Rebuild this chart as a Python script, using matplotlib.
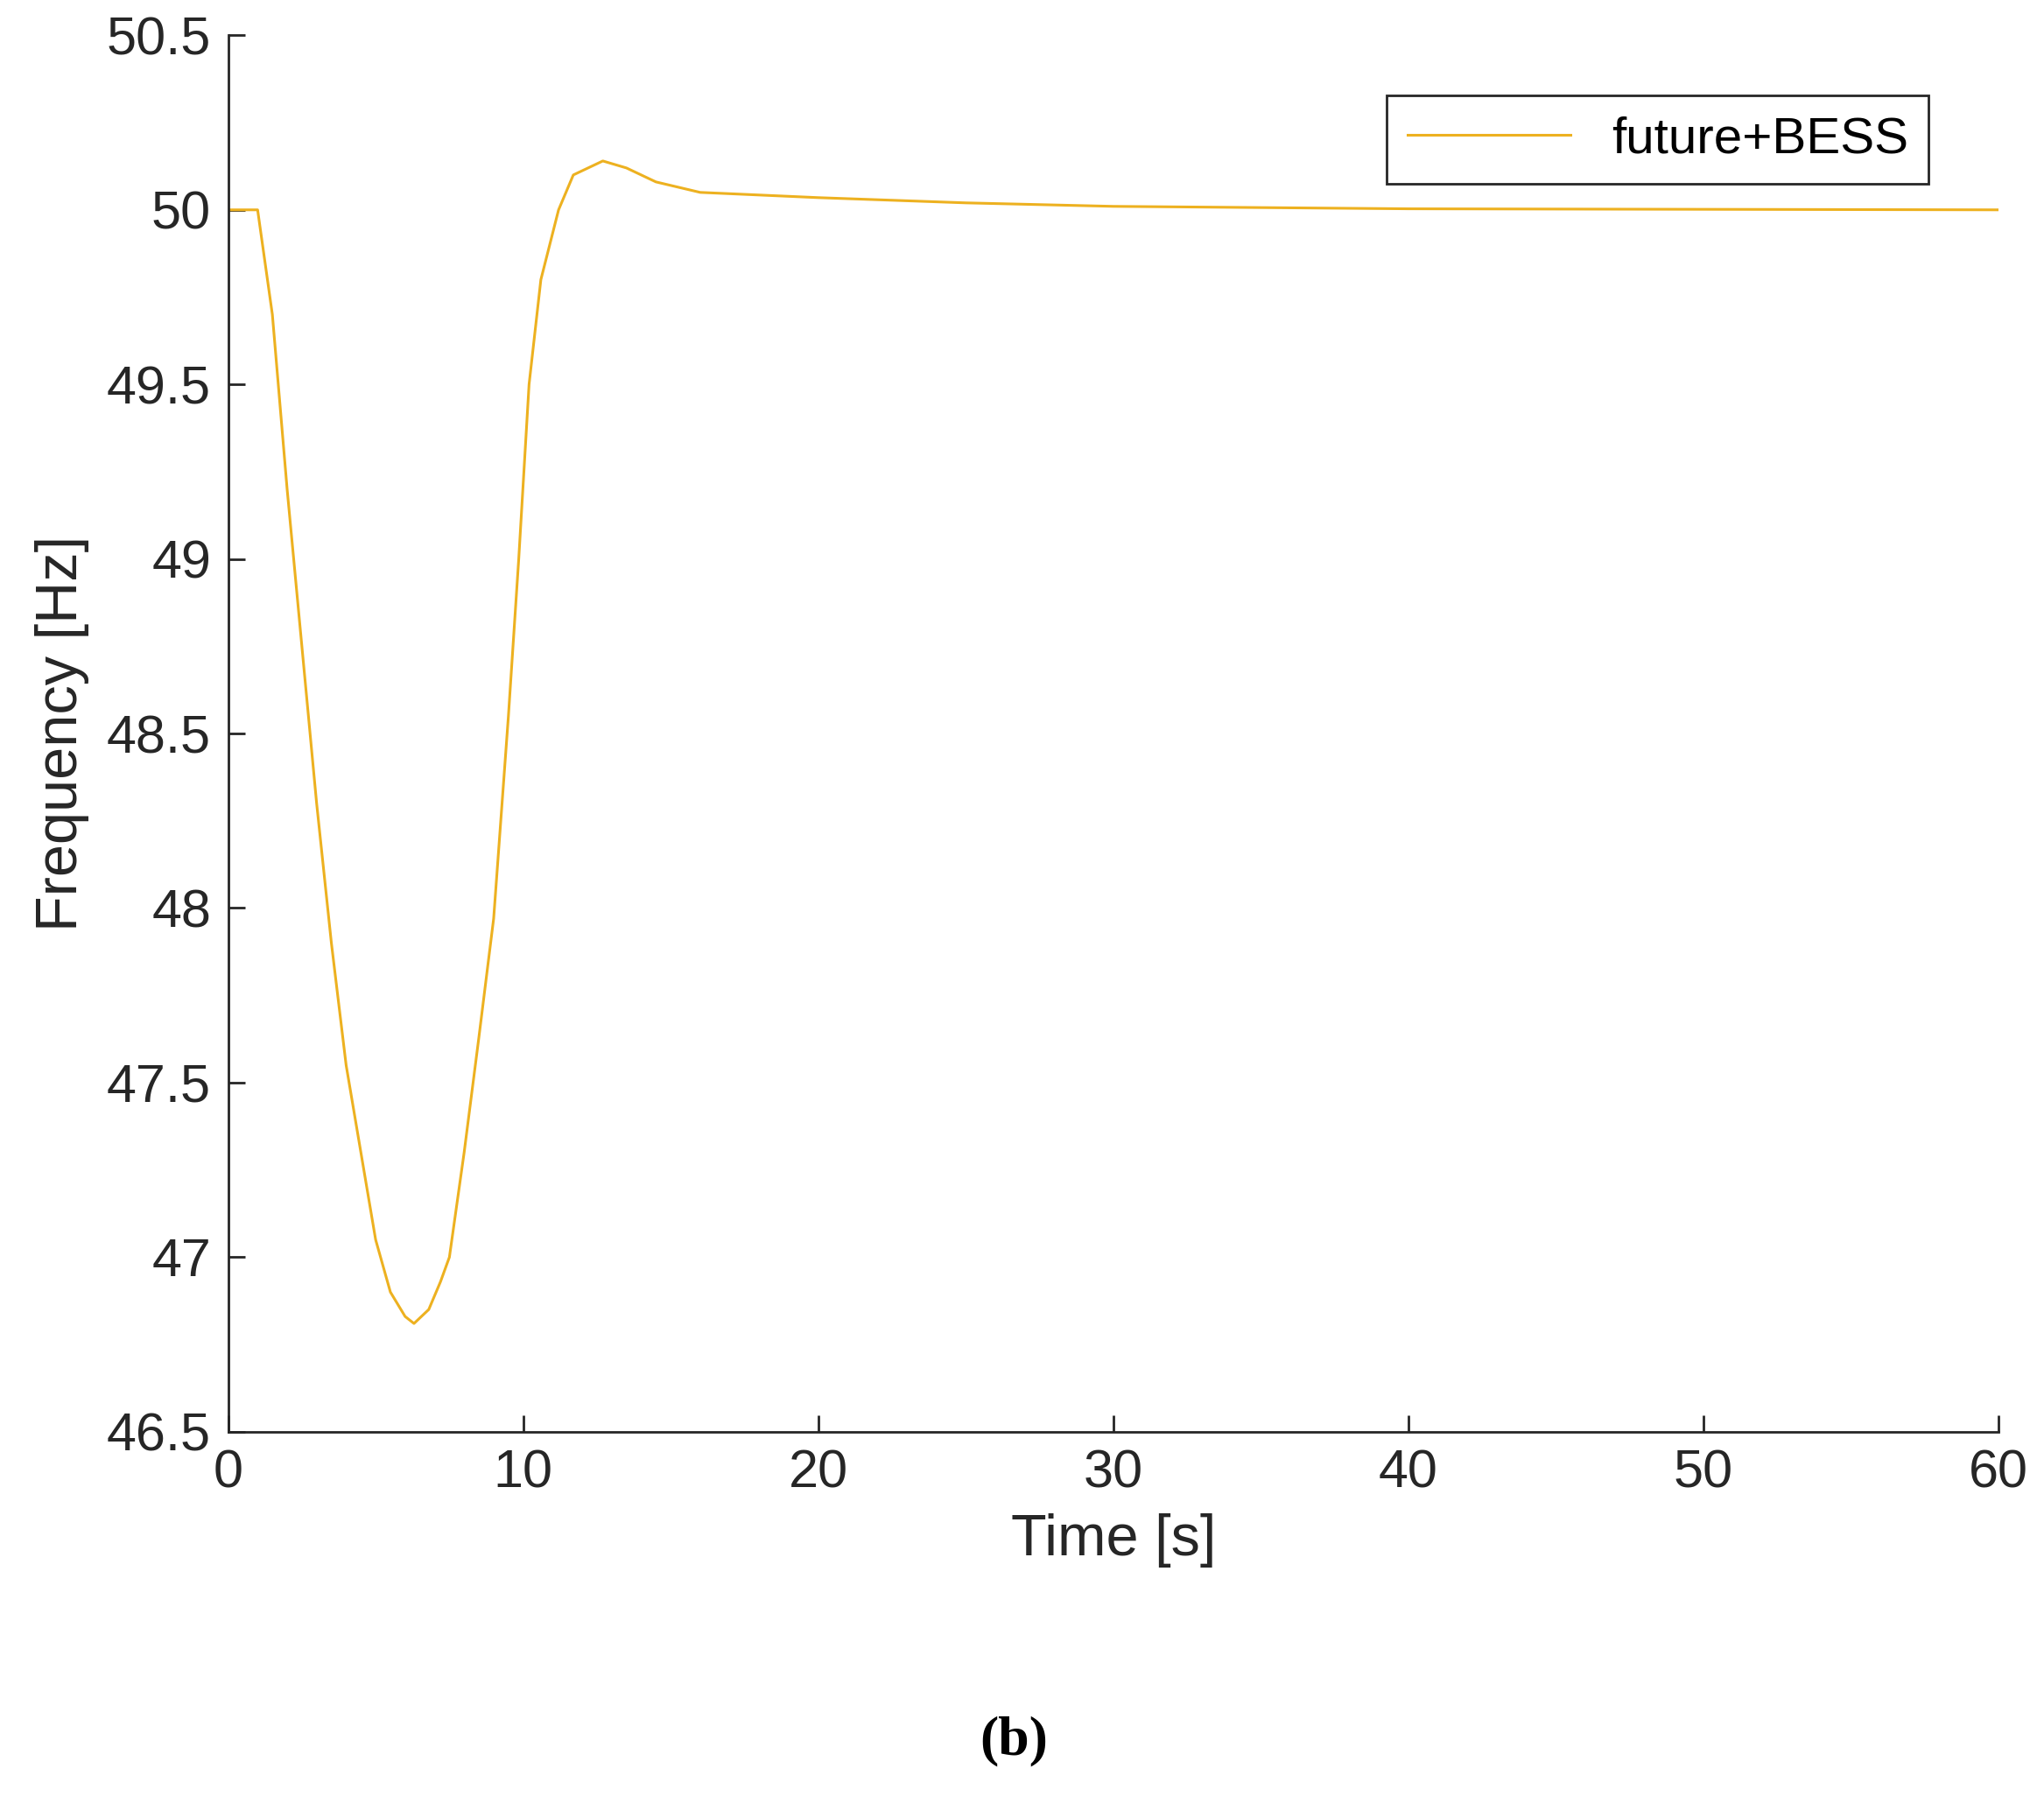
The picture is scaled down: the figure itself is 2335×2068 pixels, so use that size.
import matplotlib
matplotlib.use('Agg')
import matplotlib.pyplot as plt

# ── data ──
time_s = [0, 1, 1.5, 2, 2.5, 3, 3.5, 4, 4.5, 5, 5.5, 6, 6.3, 6.8, 7.2, 7.5, 8, 8.5, 9,
          9.5, 9.85, 10.2, 10.6, 11.2, 11.7, 12.7, 13.5, 14.5, 16, 20, 25, 30, 40, 60]
freq_hz = [50, 50, 49.7, 49.2, 48.75, 48.3, 47.9, 47.55, 47.3, 47.05, 46.9, 46.83, 46.81,
           46.85, 46.93, 47.0, 47.3, 47.63, 47.97, 48.55, 49.0, 49.5, 49.8, 50.0, 50.1,
           50.14, 50.12, 50.08, 50.05, 50.035, 50.02, 50.01, 50.003, 50.0]
series_label = 'future+BESS'
xticks = [0, 10, 20, 30, 40, 50, 60]
yticks = [46.5, 47, 47.5, 48, 48.5, 49, 49.5, 50, 50.5]

plt.rcParams['font.family'] = ['Liberation Sans', 'DejaVu Sans']
txt = '#262626'

fig = plt.figure(figsize=(23.35, 20.68), dpi=100)
ax = fig.add_axes([0.1116, 0.209, 0.8661, 0.7715])
ax.plot(time_s, freq_hz, color='#EDB120', lw=2.2, label=series_label)

ax.set_xlim(0, 60); ax.set_ylim(46.5, 50.5)
ax.set_xticks(xticks); ax.set_yticks(yticks)
ax.set_yticklabels([f'{v:g}' for v in yticks])
ax.tick_params(direction='in', length=14, width=2, labelsize=44, colors=txt, pad=14)
for s in ['top', 'right']: ax.spines[s].set_visible(False)
for s in ['left', 'bottom']:
    ax.spines[s].set_linewidth(2); ax.spines[s].set_color(txt)
ax.set_xlabel('Time [s]', fontsize=48, color=txt, labelpad=12)
ax.set_ylabel('Frequency [Hz]', fontsize=48, color=txt, labelpad=14)

leg = ax.legend(loc='upper right', fontsize=42, fancybox=False, framealpha=1,
                edgecolor=txt, handlelength=3.2, borderpad=0.4,
                bbox_to_anchor=(0.975, 0.975))
leg.get_frame().set_linewidth(2)

fig.text(0.496, 0.024, '(b)', fontsize=46, fontweight='bold', family='Liberation Serif',
         ha='center', va='bottom')
fig.savefig('out.png', dpi=100)
